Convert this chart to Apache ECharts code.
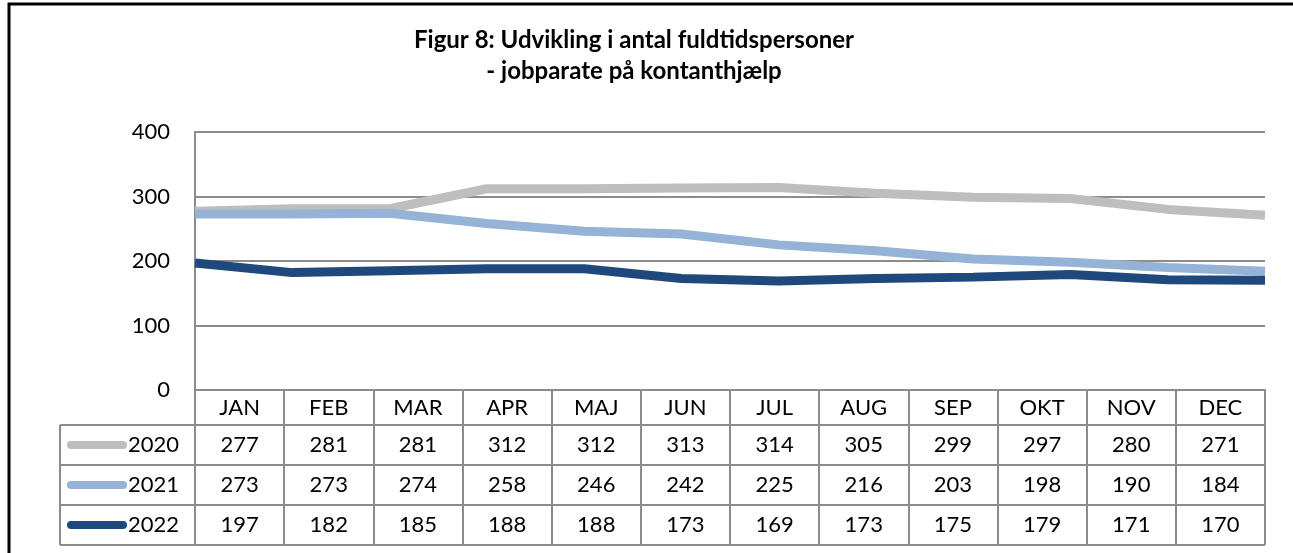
<!DOCTYPE html>
<html>
<head>
<meta charset="utf-8">
<script src="https://cdn.jsdelivr.net/npm/echarts@6/dist/echarts.min.js"></script>
<style>
  html, body { margin: 0; padding: 0; background: #fff; }
  #chart { width: 1293px; height: 553px; }
</style>
</head>
<body>
<div id="chart"></div>
<script>
  // data
  var months = ['JAN', 'FEB', 'MAR', 'APR', 'MAJ', 'JUN', 'JUL', 'AUG', 'SEP', 'OKT', 'NOV', 'DEC'];
  var years = ['2020', '2021', '2022'];
  var v2020 = [277, 281, 281, 312, 312, 313, 314, 305, 299, 297, 280, 271];
  var v2021 = [273, 273, 274, 258, 246, 242, 225, 216, 203, 198, 190, 184];
  var v2022 = [197, 182, 185, 188, 188, 173, 169, 173, 175, 179, 171, 170];
  var yTicks = [0, 100, 200, 300, 400];

  var colors = ['#BEBEBE', '#95B3D7', '#1F497D'];
  var allValues = [v2020, v2021, v2022];
  var font = 'Lato, "Liberation Sans", sans-serif';
  var gridColor = '#8C8C8C';

  var chart = echarts.init(document.getElementById('chart'));

  // table rows (below the plot): y positions of lines
  var tableTop = 390, headH = 35, rowH = 40;
  var legendLeft = 60, gridLeft = 195, gridRight = 1265;

  var graphics = [];
  // outer frame
  graphics.push({
    type: 'rect', shape: { x: 9, y: 4, width: 1400, height: 700 },
    style: { fill: null, stroke: '#000', lineWidth: 3 }, silent: true
  });
  // horizontal table lines for series rows
  for (var r = 0; r <= years.length; r++) {
    var y = tableTop + headH + r * rowH;
    graphics.push({
      type: 'line', shape: { x1: legendLeft, y1: y, x2: gridRight, y2: y },
      style: { stroke: gridColor, lineWidth: 2 }, silent: true
    });
  }
  graphics.push({
    type: 'line',
    shape: { x1: legendLeft, y1: tableTop + headH, x2: legendLeft, y2: tableTop + headH + years.length * rowH },
    style: { stroke: gridColor, lineWidth: 2 }, silent: true
  });
  // legend keys in table
  years.forEach(function (yr, i) {
    var cy = tableTop + headH + i * rowH + rowH / 2;
    graphics.push({
      type: 'line', shape: { x1: 71, y1: cy, x2: 123, y2: cy },
      style: { stroke: colors[i], lineWidth: 8, lineCap: 'round' }, silent: true
    });
    graphics.push({
      type: 'text', x: 128, y: cy,
      style: { text: yr, fontSize: 22, fontFamily: font, fill: '#000', verticalAlign: 'middle', align: 'left' },
      silent: true
    });
  });

  var option = {
    animation: false,
    backgroundColor: '#fff',
    title: {
      text: 'Figur 8: Udvikling i antal fuldtidspersoner\n- jobparate på kontanthjælp',
      left: 629,
      textAlign: 'center',
      top: 20,
      textStyle: { fontSize: 24, fontWeight: 'bold', fontFamily: font, color: '#000', lineHeight: 31 }
    },
    grid: { left: gridLeft, right: 1293 - gridRight, top: 132, bottom: 553 - tableTop },
    xAxis: [
      {
        type: 'category', data: months, boundaryGap: false,
        axisLine: { show: false }, axisTick: { show: false }, axisLabel: { show: false }
      },
      {
        type: 'category', data: months, boundaryGap: true, position: 'bottom',
        axisLine: { show: true, lineStyle: { color: gridColor, width: 2 } },
        axisTick: { show: true, interval: 0, length: headH + years.length * rowH, lineStyle: { color: gridColor, width: 2 } },
        axisLabel: {
          interval: 0, margin: 0,
          formatter: function (val, idx) {
            var s = '{m|' + val + '}';
            allValues.forEach(function (arr) { s += '\n{v|' + arr[idx] + '}'; });
            return s;
          },
          rich: {
            m: { fontSize: 22, fontFamily: font, color: '#000', lineHeight: headH },
            v: { fontSize: 22, fontFamily: font, color: '#000', lineHeight: rowH }
          }
        }
      }
    ],
    yAxis: {
      type: 'value', min: yTicks[0], max: yTicks[yTicks.length - 1], interval: 100,
      axisLine: { show: true, lineStyle: { color: gridColor, width: 2 } },
      axisTick: { show: false },
      splitLine: { show: true, lineStyle: { color: gridColor, width: 2 } },
      axisLabel: { fontSize: 22, fontFamily: font, color: '#000', margin: 25 }
    },
    series: years.map(function (yr, i) {
      return {
        name: yr, type: 'line', xAxisIndex: 0, data: allValues[i],
        symbol: 'none', lineStyle: { width: 9, color: colors[i] }, itemStyle: { color: colors[i] },
        z: 3 + i
      };
    }),
    graphic: graphics
  };

  chart.setOption(option);
</script>
</body>
</html>
